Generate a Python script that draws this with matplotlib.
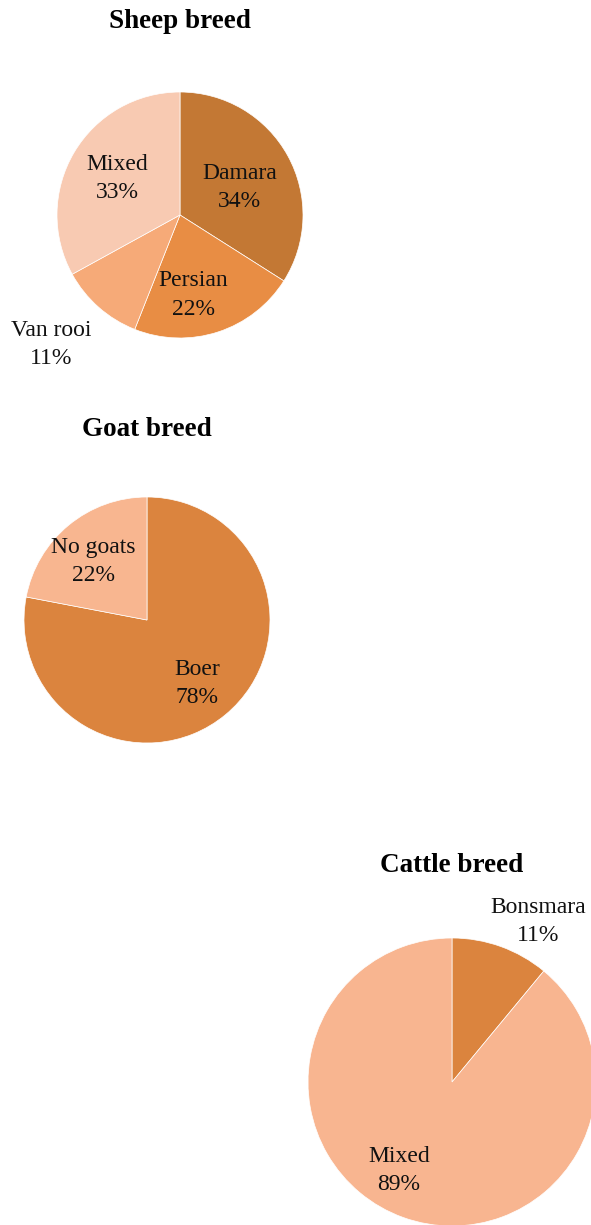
import numpy as np
import matplotlib.pyplot as plt

plt.rcParams['font.family'] = ['Liberation Serif', 'DejaVu Serif']

# sheep breed
sheep_labels = ['Damara', 'Persian', 'Van rooi', 'Mixed']
sheep_values = [34, 22, 11, 33]
sheep_colors = ['#C37834', '#E88D44', '#F6AA78', '#F8CAB2']

# goat breed
goat_labels = ['Boer', 'No goats']
goat_values = [78, 22]
goat_colors = ['#DB843E', '#F8B690']

# cattle breed
cattle_labels = ['Bonsmara', 'Mixed']
cattle_values = [11, 89]
cattle_colors = ['#DB843E', '#F8B590']

W, H = 591, 1225
fig = plt.figure(figsize=(W / 100, H / 100), dpi=100)


def pie_chart(title, labels, values, colors, cx, cy, r, title_y, dists, shifts):
    # axes placed in pixel coords, pie of radius 1 fills it
    ax = fig.add_axes([(cx - r) / W, 1 - (cy + r) / H, 2 * r / W, 2 * r / H])
    wedges, _ = ax.pie(values, colors=colors, startangle=90, counterclock=False,
                       radius=1, wedgeprops=dict(edgecolor='white', linewidth=0.5))
    ax.set_xlim(-1, 1)
    ax.set_ylim(-1, 1)
    ax.set_aspect('equal')
    ax.axis('off')
    for w, lab, v, d, s in zip(wedges, labels, values, dists, shifts):
        ang = np.deg2rad((w.theta1 + w.theta2) / 2 + s)
        # nudge text down a little to sit like the original
        ax.text(d * np.cos(ang), d * np.sin(ang) - 0.02, f'{lab}\n{v}%', ha='center',
                va='center', fontsize=17, color='#111111', linespacing=1.45,
                clip_on=False)
    fig.text(cx / W, 1 - title_y / H, title, ha='center', va='center',
             fontsize=19.5, fontweight='bold', color='black')


pie_chart('Sheep breed', sheep_labels, sheep_values, sheep_colors,
          180, 215, 123, 22, [0.54, 0.64, 1.47, 0.6], [-2, -8, -4, -1])
pie_chart('Goat breed', goat_labels, goat_values, goat_colors,
          147, 620, 123, 429, [0.64, 0.66], [0, 2])
pie_chart('Cattle breed', cattle_labels, cattle_values, cattle_colors,
          452, 1082, 144, 865, [1.28, 0.7], [-8, -12])

plt.savefig('out.png', dpi=100)
